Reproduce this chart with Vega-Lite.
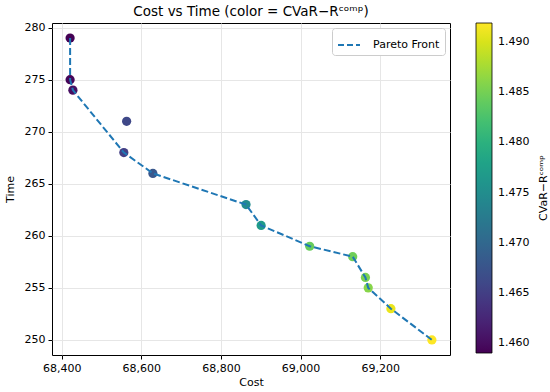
{
  "$schema": "https://vega.github.io/schema/vega-lite/v6.json",
  "width": 398,
  "height": 332,
  "autosize": {"type": "none"},
  "padding": {"left": 52, "top": 23, "right": 100, "bottom": 37},
  "title": {"text": "Cost vs Time (color = CVaR−Rᶜᵒᵐᵖ)", "fontSize": 13.5, "font": "DejaVu Sans", "fontWeight": "normal", "offset": 3, "color": "black"},
  "config": {
    "font": "DejaVu Sans",
    "view": {"stroke": "black", "strokeWidth": 1},
    "axis": {"labelFontSize": 11, "titleFontSize": 11, "titleFontWeight": "normal", "labelColor": "black", "titleColor": "black", "tickColor": "black", "domain": false, "tickSize": 4, "labelPadding": 3, "gridColor": "#e6e6e6", "gridOpacity": 1, "labelFont": "DejaVu Sans", "titleFont": "DejaVu Sans"},
    "legend": {"labelFont": "DejaVu Sans", "titleFont": "DejaVu Sans", "labelColor": "black", "titleColor": "black"}
  },
  "data": {"values": [
    {"cost": 68421, "time": 279, "cvar": 1.4590, "pareto": true},
    {"cost": 68421, "time": 275, "cvar": 1.4593, "pareto": true},
    {"cost": 68428, "time": 274, "cvar": 1.4602, "pareto": true},
    {"cost": 68563, "time": 271, "cvar": 1.4660, "pareto": false},
    {"cost": 68556, "time": 268, "cvar": 1.4650, "pareto": true},
    {"cost": 68629, "time": 266, "cvar": 1.4679, "pareto": true},
    {"cost": 68863, "time": 263, "cvar": 1.4748, "pareto": true},
    {"cost": 68901, "time": 261, "cvar": 1.4770, "pareto": true},
    {"cost": 69023, "time": 259, "cvar": 1.4843, "pareto": true},
    {"cost": 69131, "time": 258, "cvar": 1.4847, "pareto": true},
    {"cost": 69163, "time": 256, "cvar": 1.4853, "pareto": true},
    {"cost": 69170, "time": 255, "cvar": 1.4860, "pareto": true},
    {"cost": 69227, "time": 253, "cvar": 1.4909, "pareto": true},
    {"cost": 69330, "time": 250, "cvar": 1.4919, "pareto": true}
  ]},
  "layer": [
    {
      "mark": {"type": "point", "filled": true, "size": 85, "opacity": 1},
      "encoding": {
        "x": {"field": "cost", "type": "quantitative", "scale": {"domain": [68375.5, 69375.5], "nice": false, "zero": false},
              "axis": {"title": "Cost", "values": [68400, 68600, 68800, 69000, 69200], "format": ",d", "titlePadding": 3}},
        "y": {"field": "time", "type": "quantitative", "scale": {"domain": [248.55, 280.45], "nice": false, "zero": false},
              "axis": {"title": "Time", "values": [250, 255, 260, 265, 270, 275, 280], "titlePadding": 9}},
        "color": {"field": "cvar", "type": "quantitative", "scale": {"scheme": "viridis", "domain": [1.459, 1.4919]},
                  "legend": {"title": "CVaR−Rᶜᵒᵐᵖ", "orient": "right", "offset": 26, "gradientLength": 330, "gradientThickness": 16,
                             "values": [1.46, 1.465, 1.47, 1.475, 1.48, 1.485, 1.49], "format": ".3f", "titleOrient": "right",
                             "labelFontSize": 11, "titleFontSize": 11, "titleFontWeight": "normal", "gradientStrokeColor": "black",
                             "gradientStrokeWidth": 0.8, "padding": 0, "labelOffset": 6, "titlePadding": 15, "labelOverlap": false,
                             "encoding": {"title": {"angle": {"value": -90}, "baseline": {"value": "middle"}}}}}
      }
    },
    {
      "mark": {"type": "line", "strokeWidth": 2, "strokeDash": [7, 3]},
      "transform": [{"filter": "datum.pareto"}],
      "encoding": {
        "x": {"field": "cost", "type": "quantitative"},
        "y": {"field": "time", "type": "quantitative"},
        "order": {"field": "time", "sort": "descending"},
        "stroke": {"datum": "Pareto Front", "scale": {"range": ["#1f77b4"]},
                   "legend": {"title": null, "orient": "top-right", "offset": 5, "padding": 5, "fillColor": "white", "strokeColor": "#cccccc",
                              "cornerRadius": 3, "labelFontSize": 11, "symbolType": "stroke", "symbolStrokeWidth": 2, "symbolDash": [6, 3],
                              "symbolSize": 484, "labelOffset": 12}}
      }
    }
  ]
}
